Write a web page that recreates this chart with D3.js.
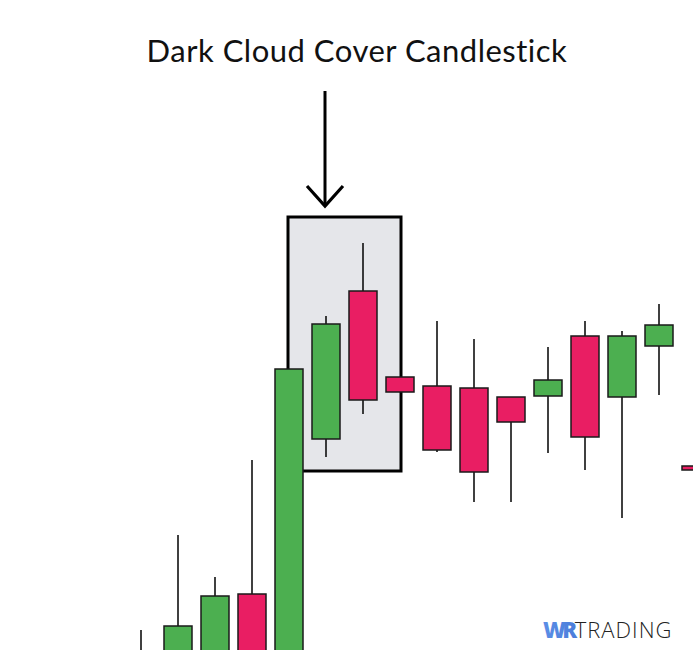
<!DOCTYPE html>
<html><head><meta charset="utf-8">
<script src="https://cdn.jsdelivr.net/npm/d3@7"></script>
<style>html,body{margin:0;padding:0;background:#fff;overflow:hidden}</style>
</head><body>
<svg id="c" width="693" height="650"></svg>
<script>
// Candle data (arbitrary price units)
const idx   = [0,1,2,3,4,5,6,7,8,9,10,11,12,13,14,15];
const open  = [-3,-4,-2,5.6,-3,21.1,35.9,27.3,26.4,26.2,25.3,25.4,31.4,25.3,30.4,18.4];
const close = [-1,2.4,5.4,-3,28.1,32.6,25.0,25.8,20.0,17.8,22.8,27.0,21.3,31.4,32.5,18.0];
const high  = [2.0,11.5,7.3,19.0,28.1,33.4,40.7,27.3,32.9,31.1,25.3,30.3,32.9,31.9,34.6,18.4];
const low   = [-5,-6,-4,-5,-5,19.3,23.6,25.8,19.8,14.8,14.8,19.7,18.0,13.2,25.5,18.0];
const title = "Dark Cloud Cover Candlestick";
const highlight = {from: 4, to: 7, top: 43.3, bottom: 17.9};

const svg = d3.select("#c");
const x = d3.scaleLinear().domain([0, 15]).range([141, 696]);
const y = d3.scaleLinear().domain([0, 65]).range([650, 0]);
const bw = 28;
const GREEN = "#4caf50", RED = "#e91e63";

// title
svg.append("text").attr("x", 357).attr("y", 62).attr("text-anchor", "middle")
  .attr("font-family", "Lato, 'DejaVu Sans', sans-serif").attr("font-size", 31)
  .attr("letter-spacing", 0.5)
  .attr("fill", "#111").text(title);

// arrow
const ax = x(5) - 1;
svg.append("line").attr("x1", ax).attr("x2", ax).attr("y1", 91).attr("y2", 206)
  .attr("stroke", "#000").attr("stroke-width", 3);
svg.append("path").attr("d", `M${ax-18},${186} L${ax},${206} L${ax+18},${186}`)
  .attr("fill", "none").attr("stroke", "#000").attr("stroke-width", 3.2);

// highlight box
svg.append("rect").attr("x", x(highlight.from) - 1).attr("y", y(highlight.top))
  .attr("width", x(highlight.to) - x(highlight.from) + 2)
  .attr("height", y(highlight.bottom) - y(highlight.top))
  .attr("fill", "#e5e6ea").attr("stroke", "#000").attr("stroke-width", 3);

const data = idx.map(i => ({i, o: open[i], c: close[i], h: high[i], l: low[i]}));
const g = svg.append("g");
const cs = g.selectAll("g").data(data).join("g");
cs.append("line").attr("x1", d => x(d.i)).attr("x2", d => x(d.i))
  .attr("y1", d => y(d.h)).attr("y2", d => y(d.l))
  .attr("stroke", "#000").attr("stroke-width", 1.5);
cs.append("rect").attr("x", d => x(d.i) - bw/2)
  .attr("y", d => y(Math.max(d.o, d.c)))
  .attr("width", bw)
  .attr("height", d => Math.max(1, Math.abs(y(d.o) - y(d.c))))
  .attr("fill", d => d.c >= d.o ? GREEN : RED)
  .attr("stroke", "#1a1a1a").attr("stroke-width", 1.5);

// logo
const defs = svg.append("defs");
const lg = defs.append("linearGradient").attr("id", "wr").attr("x1", 0).attr("x2", 1);
lg.append("stop").attr("offset", 0).attr("stop-color", "#5b8ee6");
lg.append("stop").attr("offset", 1).attr("stop-color", "#1f4fb8");
const logo = svg.append("text").attr("x", 543).attr("y", 638)
  .attr("font-family", "'Open Sans', sans-serif").attr("font-size", 22);
logo.append("tspan").attr("font-weight", 800).attr("fill", "url(#wr)").attr("letter-spacing", -3.5).text("WR");
logo.append("tspan").attr("dx", 1).attr("font-weight", 300).attr("fill", "#222").attr("letter-spacing", 1).text("TRADING");
</script>
</body></html>
